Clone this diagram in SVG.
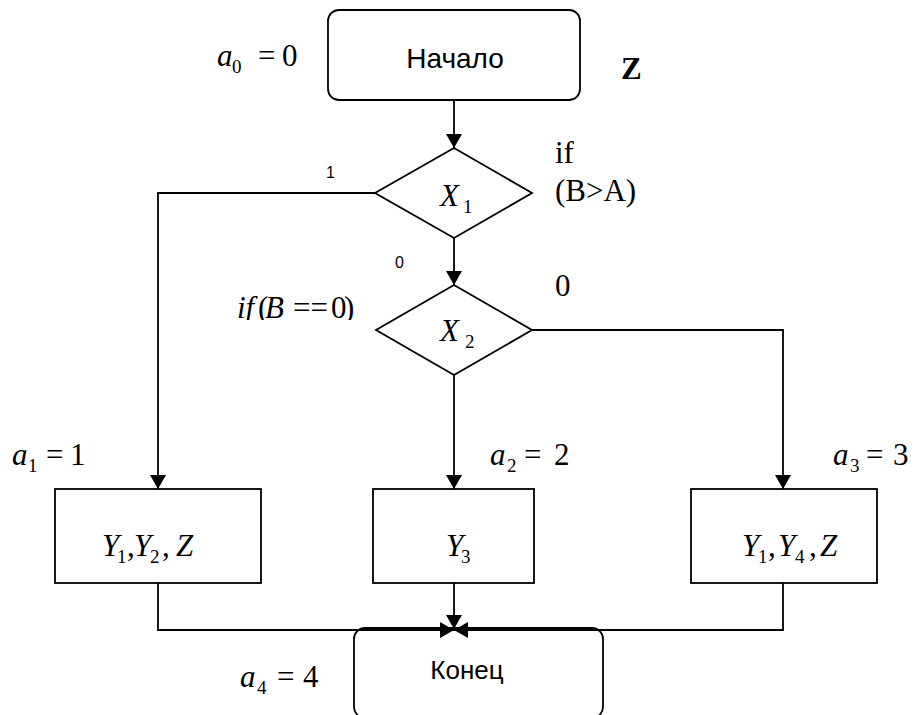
<svg xmlns="http://www.w3.org/2000/svg" width="914" height="715" viewBox="0 0 914 715">
<style>
.ln{fill:none;stroke:#000;stroke-width:1.8}
.bx{fill:#fff;stroke:#000;stroke-width:1.8}
.m{font-family:"Liberation Serif","Times New Roman",serif;font-size:31px;fill:#000}
.i{font-style:italic}
.s{font-size:19px}
.sa{font-family:"Liberation Sans",Arial,sans-serif;fill:#000}
</style>
<defs>
<marker id="arr" viewBox="0 0 14 16" refX="14" refY="8" markerWidth="14" markerHeight="16" markerUnits="userSpaceOnUse" orient="auto">
<path d="M0,0 L14,8 L0,16 z" fill="#000"/>
</marker>
<clipPath id="clipIf" clipPathUnits="userSpaceOnUse"><rect x="200" y="290" width="170" height="30"/></clipPath>
</defs>

<g id="connectors">
<path class="ln" d="M454,100 V148" marker-end="url(#arr)"/>
<path class="ln" d="M375,193 H158 V489" marker-end="url(#arr)"/>
<path class="ln" d="M454,238 V285" marker-end="url(#arr)"/>
<path class="ln" d="M532,330 H783 V489" marker-end="url(#arr)"/>
<path class="ln" d="M454,375 V489" marker-end="url(#arr)"/>
</g>

<g id="start">
<rect class="bx" x="328" y="10" width="252" height="90" rx="11"/>
<text class="sa" font-size="28" text-anchor="middle" x="455" y="68">Начало</text>
</g>

<g id="x1">
<polygon class="bx" points="454,148 532,193 454,238 375,193"/>
<text class="m"><tspan class="i" x="440" y="206">X</tspan><tspan class="s" x="463" y="213">1</tspan></text>
</g>

<g id="x2">
<polygon class="bx" points="454,285 532,330 454,375 376,330"/>
<text class="m"><tspan class="i" x="440" y="341">X</tspan><tspan class="s" x="465" y="348">2</tspan></text>
</g>

<g id="op1">
<rect class="bx" x="55" y="489" width="206" height="94"/>
<text class="m"><tspan class="i" x="102" y="556">Y</tspan><tspan class="s" x="117" y="563">1</tspan><tspan x="127" y="556">,</tspan><tspan class="i" x="134" y="556">Y</tspan><tspan class="s" x="150" y="563">2</tspan><tspan x="162" y="556">,</tspan><tspan class="i" x="176" y="556">Z</tspan></text>
</g>

<g id="op2">
<rect class="bx" x="373" y="489" width="161" height="94"/>
<text class="m"><tspan class="i" x="446" y="556">Y</tspan><tspan class="s" x="461" y="563">3</tspan></text>
</g>

<g id="op3">
<rect class="bx" x="691" y="489" width="186" height="94"/>
<text class="m"><tspan class="i" x="742" y="556">Y</tspan><tspan class="s" x="758" y="563">1</tspan><tspan x="768" y="556">,</tspan><tspan class="i" x="778" y="556">Y</tspan><tspan class="s" x="795" y="563">4</tspan><tspan x="809" y="556">,</tspan><tspan class="i" x="820" y="556">Z</tspan></text>
</g>

<g id="end">
<rect class="bx" x="354" y="628" width="249" height="90" rx="11"/>
<text class="sa" font-size="26" text-anchor="middle" x="467" y="679">Конец</text>
</g>

<g id="connectors-bottom">
<path class="ln" d="M158,583 V630 H454" marker-end="url(#arr)"/>
<path class="ln" d="M783,583 V630 H454" marker-end="url(#arr)"/>
<path class="ln" d="M454,583 V629" marker-end="url(#arr)"/>
</g>

<g id="labels">
<text class="m"><tspan class="i" x="217" y="66">a</tspan><tspan class="s" x="232" y="73">0</tspan><tspan x="258" y="66">=</tspan><tspan x="282" y="66">0</tspan></text>
<text class="m" font-weight="bold" font-size="34" x="621" y="79">Z</text>
<text class="sa" font-size="16" x="326" y="178">1</text>
<text class="m" x="555" y="163">if</text>
<text class="m" x="555" y="201">(B&gt;A)</text>
<text class="sa" font-size="16" x="395" y="268">0</text>
<text class="m" x="555" y="296">0</text>
<g clip-path="url(#clipIf)">
<text class="m" font-size="25"><tspan class="i" x="237" y="318">if</tspan><tspan x="258" y="318">(</tspan><tspan class="i" x="265" y="318">B</tspan><tspan x="293" y="318">==</tspan><tspan x="331" y="318">0</tspan><tspan x="344" y="318">)</tspan></text>
</g>
<text class="m"><tspan class="i" x="12" y="465">a</tspan><tspan class="s" x="28" y="472">1</tspan><tspan x="46" y="465">=</tspan><tspan x="70" y="465">1</tspan></text>
<text class="m"><tspan class="i" x="490" y="465">a</tspan><tspan class="s" x="507" y="472">2</tspan><tspan x="524" y="465">=</tspan><tspan x="554" y="465">2</tspan></text>
<text class="m"><tspan class="i" x="833" y="465">a</tspan><tspan class="s" x="850" y="472">3</tspan><tspan x="866" y="465">=</tspan><tspan x="893" y="465">3</tspan></text>
<text class="m"><tspan class="i" x="240" y="687">a</tspan><tspan class="s" x="257" y="694">4</tspan><tspan x="277" y="687">=</tspan><tspan x="303" y="687">4</tspan></text>
</g>
</svg>
